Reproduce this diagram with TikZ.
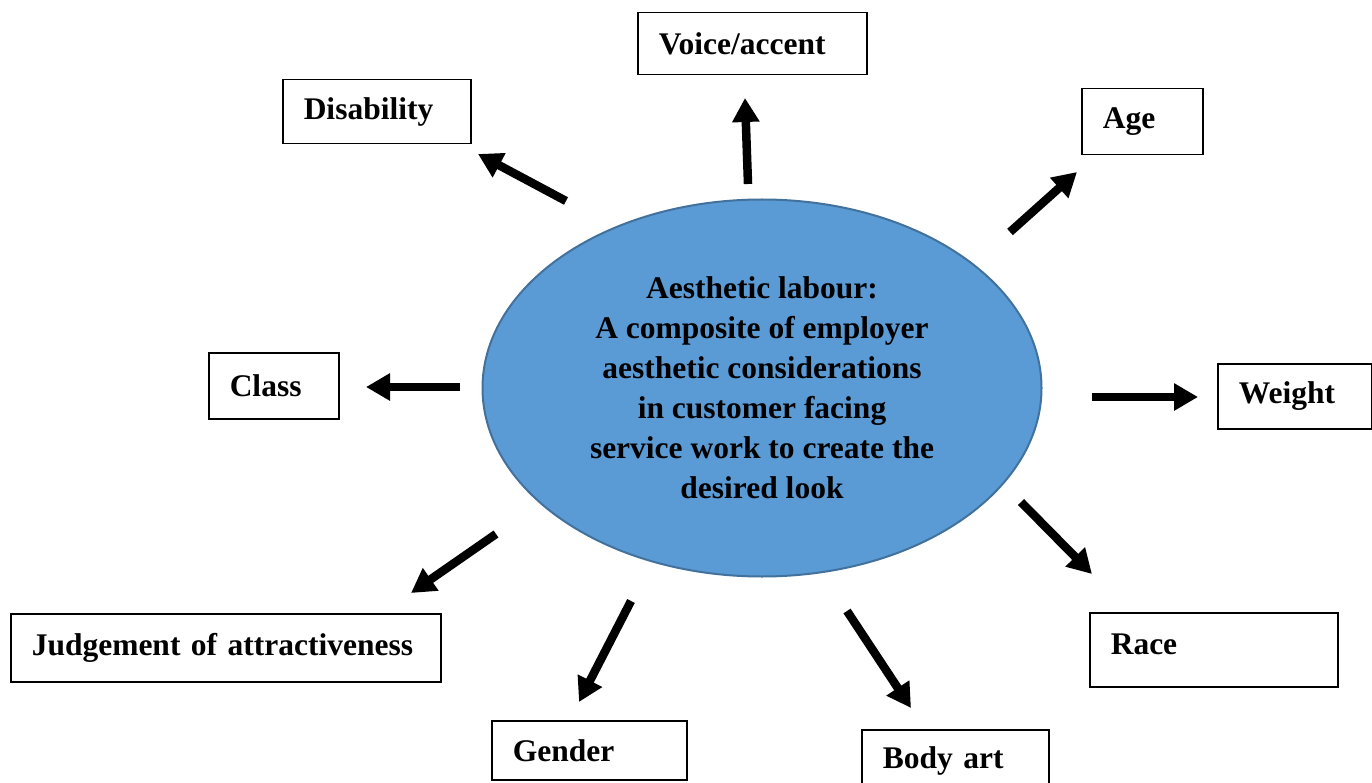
\documentclass[tikz,border=0pt]{standalone}
\usepackage{fontspec}
\setmainfont{Liberation Serif}
\usetikzlibrary{shapes.geometric,arrows.meta}
\definecolor{labourfill}{HTML}{5B9BD5}
\definecolor{labourline}{HTML}{41719C}

\begin{document}
\begin{tikzpicture}[x=1pt,y=-1pt,
    box/.style={draw, line width=1.5pt, anchor=north west, inner xsep=21pt, inner ysep=0pt,
      align=left, font=\fontsize{31.5}{38}\selectfont\bfseries},
    arr/.style={line width=8.5pt, -{Triangle[length=24pt,width=26pt]}}]
  \useasboundingbox (0,0) rectangle (1372,783);

  % 1. Elipse central
  \node[ellipse, draw=labourline, fill=labourfill, line width=2pt,
    minimum width=559pt, minimum height=377pt, inner sep=0pt, align=center,
    font=\fontsize{31.5}{40}\selectfont\bfseries] (labour) at (762,388)
    {Aesthetic labour:\\A composite of employer\\aesthetic considerations\\in customer facing\\service work to create the\\desired look};

  % 2. Caixas em volta
  \node[box, text width=187pt, minimum height=62pt] (voice)  at (637,12)  {Voice/accent};
  \node[box, text width=146pt, minimum height=64pt] (disab)  at (282,79)  {Disability};
  \node[box, text width=79pt,  minimum height=66pt] (age)    at (1081,88) {Age};
  \node[box, text width=88pt,  minimum height=66pt] (class)  at (208,352) {Class};
  \node[box, text width=112pt, minimum height=65pt] (weight) at (1217,363) {Weight};
  \node[box, text width=388pt, minimum height=68pt] (judge)  at (10,613)  {Judgement of attractiveness};
  \node[box, text width=153pt, minimum height=59pt] (gender) at (491,720) {Gender};
  \node[box, text width=145pt, minimum height=62pt] (body)   at (861,729) {Body art};
  \node[box, text width=206pt, minimum height=74pt, text depth=12pt] (race) at (1089,612) {Race};

  % 3. Setas saindo da elipse (pontas livres)
  \foreach \n/\tx/\ty/\hx/\hy in {voice/748/184/745/98, disab/566/201/478/154,
      age/1010/232/1077/172, class/460/387/366/387, weight/1092/397/1198/397,
      judge/496/534/411/593, gender/631/601/579/702, body/847/611/911/708,
      race/1021/502/1092/574} {
    \coordinate (\n-t) at (\tx,\ty);   % cauda
    \coordinate (\n-h) at (\hx,\hy);   % ponta
    \draw[arr] (\n-t) -- (\n-h);
  }
\end{tikzpicture}
\end{document}
